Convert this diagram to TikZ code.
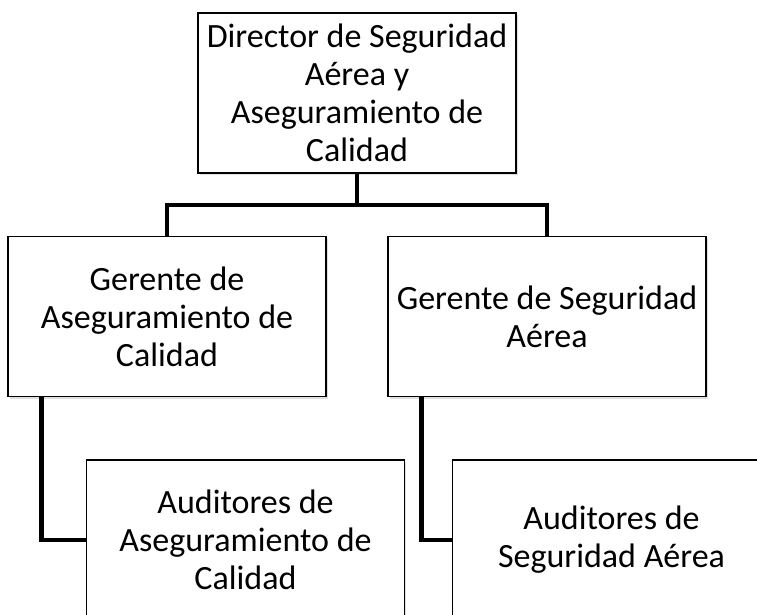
\documentclass[tikz,border=0pt]{standalone}
\usepackage{fontspec}
\setmainfont{Carlito}
\usetikzlibrary{shadows}
\begin{document}
\begin{tikzpicture}[x=1pt, y=1pt,
    puesto/.style ={rectangle, draw, line width=1.3pt, fill=white,
      minimum width=318pt, minimum height=160pt, inner sep=0pt, align=center,
      font=\fontsize{34}{38}\selectfont,
      drop shadow={shadow xshift=1.5pt, shadow yshift=-2pt, opacity=0.25}},
    enlace/.style ={line width=4.5pt}]
   \useasboundingbox (0,0) rectangle (757,614);
   \clip (0,0) rectangle (757,614);
   \node[puesto] (director) at (357,521) {Director de Seguridad\\Aérea y\\Aseguramiento de\\Calidad};
   \node[puesto] (gerenteAC) at (167,297.5) {Gerente de\\Aseguramiento de\\Calidad};
   \node[puesto] (gerenteSA) at (547,297.5) {Gerente de Seguridad\\Aérea};
   \node[puesto] (auditorAC) at (245.5,74) {Auditores de\\Aseguramiento de\\Calidad};
   \node[puesto] (auditorSA) at (611.5,74) {Auditores de\\Seguridad Aérea};
   \coordinate (bus) at (357,409);
   \draw[enlace] (director) to (bus);
   \draw[enlace] (gerenteAC.north) |- (bus) -| (gerenteSA.north);
   \draw[enlace] ([xshift=34pt]gerenteAC.south west) |- (auditorAC.west);
   \draw[enlace] ([xshift=34pt]gerenteSA.south west) |- (auditorSA.west);
\end{tikzpicture}
\end{document}
